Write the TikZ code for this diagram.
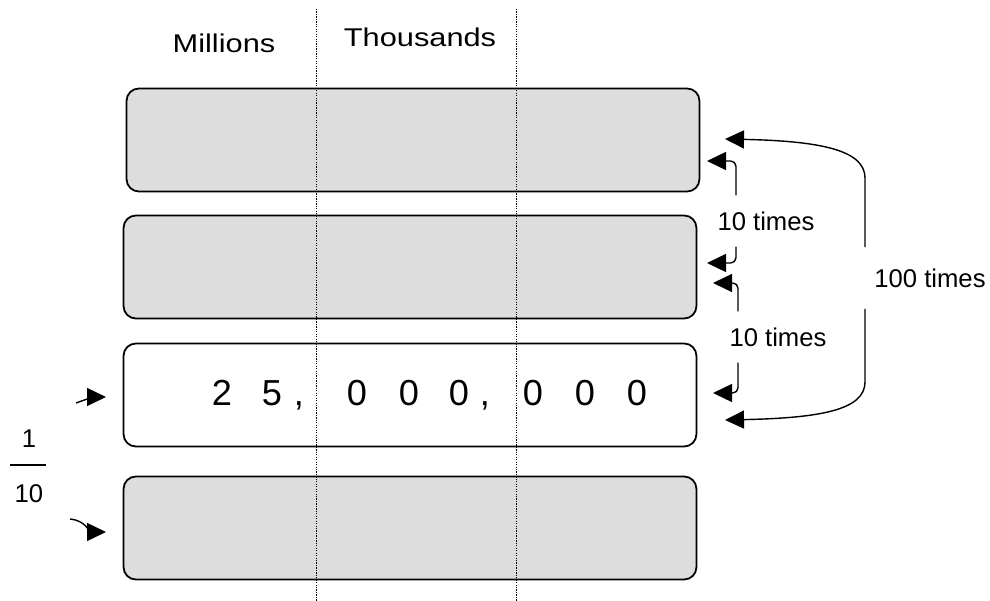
\documentclass[tikz,border=0pt]{standalone}
\usepackage{fontspec}
\setmainfont{Liberation Sans}
\newfontfamily\headfont[FakeStretch=1.2]{Liberation Sans}
\usetikzlibrary{arrows.meta}
\definecolor{boxgray}{HTML}{DDDDDD}
\tikzset{
  rowbox/.style={draw,line width=1pt,rounded corners=7pt,minimum width=11.46cm,
    minimum height=2.06cm,inner sep=0pt},
  digit/.style={font=\fontsize{20.6}{21}\selectfont,anchor=base,inner sep=0pt},
  lbl/.style={font=\fontsize{14.6}{15}\selectfont},
  head/.style={font=\headfont\fontsize{14.6}{15}\selectfont},
  arr/.style={line width=0.8pt,-{Triangle[length=0.38cm,width=0.36cm]}},
  sep/.style={line width=0.5pt,dash pattern=on 0.7pt off 0.7pt}
}
\begin{document}
\begin{tikzpicture}[x=0.02cm,y=-0.02cm]
    \useasboundingbox (0,0) rectangle (990,601);
    % the four rows
    \node[rowbox,fill=boxgray] (row1) at (413,140) {};
    \node[rowbox,fill=boxgray] (row2) at (410,267) {};
    \node[rowbox,fill=white]   (row3) at (410,395) {};
    \node[rowbox,fill=boxgray] (row4) at (410,528) {};
    %
    \draw[sep] (316,9) -- (316,601);
    \draw[sep] (516,9) -- (516,601);
    \node[head] (mil) at (224,43) {Millions};
    \node[head] (tho) at (420,37) {Thousands};
    % 25,000,000
    \foreach \x/\d in {222/2,272/5,357/0,409/0,459/0,533/0,585/0,637/0}
      \node[digit] (d\x) at (\x,405) {\d};
    \node[digit] (c1) at (299,405) {,};
    \node[digit] (c2) at (485,405) {,};
    % times 10 and times 100
    \node[lbl,inner ysep=9pt] (tenA) at (766,221) {10 times};
    \node[lbl,inner ysep=9pt] (tenB) at (778,337) {10 times};
    \node[lbl,inner ysep=12pt] (hun) at (930,278) {100 times};
    \coordinate (xA) at (736,0);
    \coordinate (xB) at (738,0);
    \coordinate (xH) at (865,0);
    \coordinate (tA1) at (707,161);
    \coordinate (tA2) at (707,263);
    \coordinate (tB1) at (713,283);
    \coordinate (tB2) at (713,393);
    \coordinate (tH1) at (725,139);
    \coordinate (tH2) at (725,420);
    \coordinate (hA) at (865,178);
    \coordinate (hB) at (865,382);
    \draw[arr,rounded corners=3pt] (tenA.north -| xA) |- (tA1);
    \draw[arr,rounded corners=3pt] (tenA.south -| xA) |- (tA2);
    \draw[arr,rounded corners=3pt] (tenB.north -| xB) |- (tB1);
    \draw[arr,rounded corners=3pt] (tenB.south -| xB) |- (tB2);
    \draw[arr] (hun.north -| xH) -- (hA) .. controls (865,150) and (820,141) .. (tH1);
    \draw[arr] (hun.south -| xH) -- (hB) .. controls (865,410) and (820,418) .. (tH2);
    % one tenth
    \node[lbl] (one) at (29,439) {1};
    \node[lbl] (ten) at (29,494) {10};
    \draw[line width=0.8pt] (10,465) -- (46,465);
    \coordinate (s1) at (76,403);
    \coordinate (e1) at (106,397);
    \coordinate (s2) at (70,519);
    \coordinate (e2) at (106,532);
    \draw[arr] (s1) to[out=20,in=180] (e1);
    \draw[arr] (s2) to[out=-5,in=180] (e2);
\end{tikzpicture}
\end{document}
